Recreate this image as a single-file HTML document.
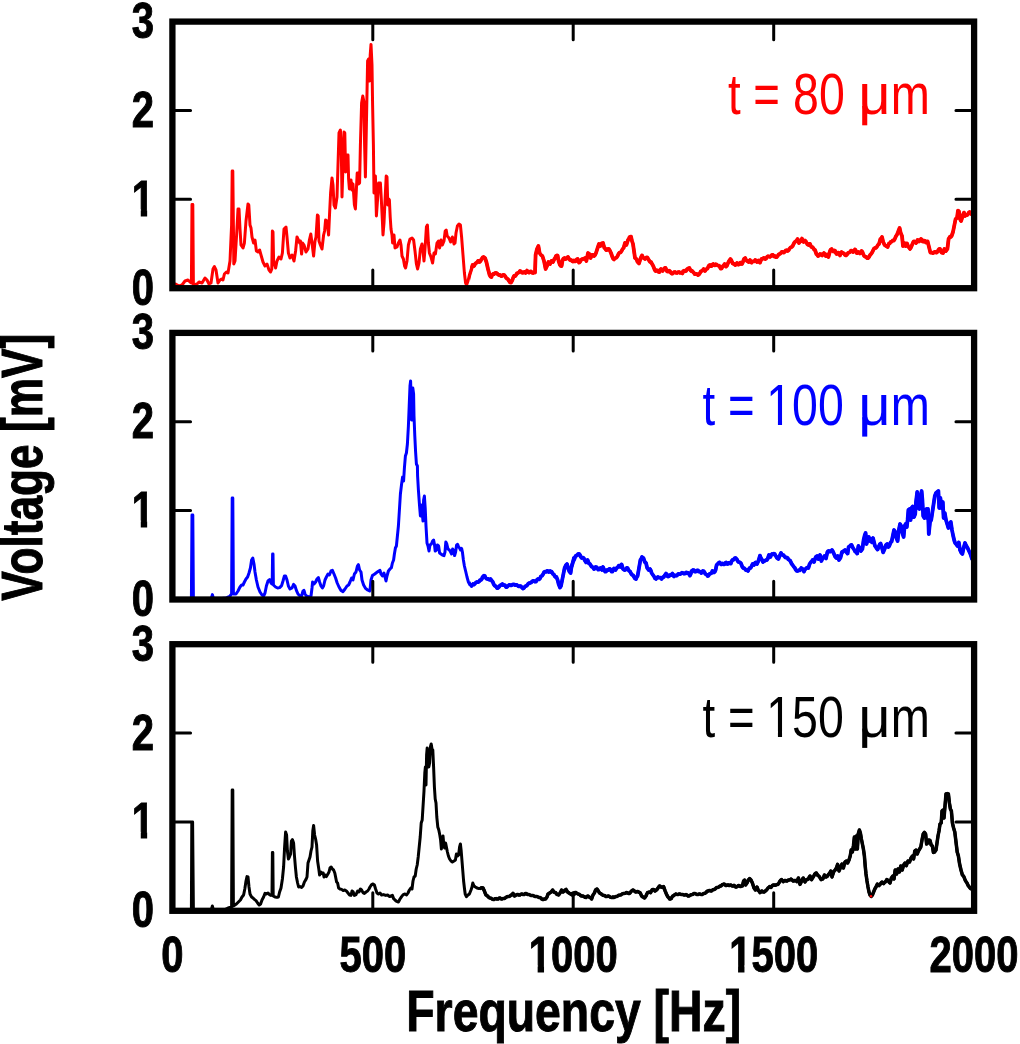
<!DOCTYPE html>
<html><head><meta charset="utf-8"><title>chart</title>
<style>
html,body{margin:0;padding:0;background:#fff;}
svg{display:block;will-change:transform;}
text{font-family:"Liberation Sans",sans-serif;}
.b{font-weight:bold;fill:#000;stroke:#000;stroke-width:0.9px;vector-effect:non-scaling-stroke;stroke-linejoin:miter;}
.r{stroke-width:0.7px;vector-effect:non-scaling-stroke;}
</style></head><body>
<svg width="1020" height="1044" viewBox="0 0 1020 1044">
<rect width="1020" height="1044" fill="#fff"/>
<clipPath id="c0"><rect x="172.4" y="21.6" width="801.7" height="266.59999999999997"/></clipPath>
<clipPath id="n0"><rect x="470" y="21.6" width="504.1" height="266.59999999999997"/></clipPath>
<polyline clip-path="url(#c0)" points="175.6,284.0 179.0,286.0 182.0,285.0 185.0,281.0 188.0,280.0 190.0,282.0 191.4,283.0 192.0,204.4 192.8,204.4 193.4,285.0 197.0,284.0 199.0,282.0 202.0,283.0 205.0,278.0 207.0,280.0 209.0,284.0 211.0,283.0 213.0,269.0 214.4,266.6 216.0,270.0 218.0,283.0 220.0,280.0 221.6,279.0 223.0,280.0 224.4,274.0 226.4,272.0 228.0,273.0 230.0,261.0 231.6,225.0 232.2,171.0 232.8,171.0 233.4,225.0 233.8,264.0 235.0,261.0 236.6,235.0 238.0,209.0 239.0,209.0 240.0,229.0 241.0,245.0 243.0,248.0 244.4,243.0 246.0,221.0 248.0,204.0 248.8,205.0 250.0,225.0 251.0,228.0 252.0,237.0 253.6,243.0 255.0,240.0 256.4,251.0 258.0,252.0 259.6,250.0 261.0,255.0 263.0,262.0 265.0,266.0 267.0,264.0 269.0,270.0 270.6,272.0 271.8,269.0 272.4,231.0 273.0,232.0 273.6,261.0 275.6,268.0 277.0,261.0 279.0,257.0 281.0,259.0 282.4,253.0 284.0,229.0 286.0,227.0 287.0,237.0 288.4,253.0 290.0,258.0 292.0,255.0 294.0,261.0 295.6,251.0 297.0,237.0 298.4,240.0 299.6,243.0 300.4,241.0 301.6,254.0 302.6,243.0 304.0,245.0 306.0,252.0 308.0,249.0 309.4,240.0 310.8,234.0 312.0,243.0 313.6,256.0 315.0,241.0 316.0,237.0 317.4,215.0 318.2,216.0 319.0,241.0 320.4,245.0 322.0,249.0 323.6,235.0 324.6,231.0 325.6,220.0 327.0,221.0 328.6,235.0 329.6,213.0 330.6,193.0 332.0,178.0 333.0,185.0 334.0,205.0 335.4,208.0 337.0,197.0 338.0,165.0 339.0,133.0 340.4,130.0 341.2,145.0 342.0,197.0 343.0,165.0 344.0,132.0 344.8,133.0 345.6,172.0 346.6,155.0 348.0,155.0 348.6,179.0 349.4,189.0 351.0,180.0 352.0,190.0 353.0,184.0 354.4,205.0 355.4,209.0 356.4,189.0 357.2,173.0 358.0,173.0 358.6,184.0 359.6,183.0 360.4,145.0 361.6,103.0 362.8,96.0 364.0,102.0 364.6,145.0 365.4,177.0 366.4,125.0 367.6,61.0 368.6,59.0 369.6,81.0 370.2,55.0 371.0,44.4 372.0,65.0 372.6,105.0 373.4,145.0 373.4,145.0 374.0,193.0 375.4,176.0 376.4,216.0 377.6,199.0 378.6,183.0 380.4,183.0 381.2,197.0 382.4,221.0 383.0,235.0 384.0,223.0 385.2,197.0 386.2,176.0 387.0,177.0 387.8,205.0 388.8,199.0 389.4,200.0 390.2,217.0 391.0,229.0 392.0,235.0 392.6,243.0 394.0,235.0 395.0,248.0 397.0,247.0 398.4,243.0 400.0,240.0 401.0,245.0 402.0,256.0 403.4,259.0 404.6,266.0 405.6,268.0 407.0,261.0 408.4,245.0 410.0,239.0 412.0,238.0 413.6,240.0 415.0,251.0 416.4,264.0 417.6,269.0 419.0,263.0 420.4,249.0 422.0,244.0 423.0,251.0 424.0,261.0 425.0,249.0 426.4,227.0 427.4,225.0 428.4,243.0 429.4,253.0 431.0,257.0 432.6,263.0 434.0,253.0 435.4,254.0 437.0,243.0 438.4,241.0 439.6,248.0 441.0,240.0 442.4,245.0 444.0,241.0 445.2,231.0 446.2,230.0 447.2,236.0 449.0,238.0 450.6,242.0 452.4,237.0 454.0,244.0 455.0,243.0 456.0,233.0 457.4,226.0 459.0,224.0 460.4,225.0 461.6,237.0 463.0,255.0 464.4,273.0 465.6,283.0 466.6,285.0 468.0,281.0 469.4,275.0 471.0,270.0 472.6,265.0 474.0,266.0 475.0,264.1 476.0,263.0 477.0,262.6 478.0,261.0 478.8,260.9 479.6,262.0 480.6,260.9 481.6,259.0 482.6,257.5 483.6,257.0 485.0,258.0 486.4,262.0 488.0,269.0 489.6,275.0 490.5,276.5 491.4,277.0 492.2,274.9 493.0,274.0 494.0,274.1 495.0,273.0 496.0,272.8 497.0,273.4 498.0,274.5 499.0,275.0 500.0,274.9 501.0,276.0 502.0,276.0 503.0,275.0 504.0,274.9 505.0,276.0 506.0,277.6 507.0,278.6 508.0,279.3 509.0,281.0 510.0,282.4 511.0,282.6 512.4,280.0 513.2,277.6 514.0,276.0 515.0,276.2 516.0,275.0 517.0,273.3 518.0,273.0 519.0,272.3 520.0,271.0 521.0,271.5 522.0,272.6 523.0,272.8 524.0,272.0 524.8,271.8 525.6,273.0 527.0,270.6 528.0,272.1 529.0,272.6 530.0,271.6 531.0,271.4 532.0,272.7 533.0,273.0 534.0,272.5 535.0,272.6 535.6,255.0 537.0,249.0 538.4,246.0 539.6,253.0 541.0,255.0 542.4,256.0 544.0,261.0 545.6,269.0 547.0,266.0 548.4,262.0 549.2,263.4 550.0,264.0 551.4,261.0 552.2,261.0 553.0,262.0 554.4,259.0 555.2,258.0 556.0,256.0 556.8,255.4 557.6,255.6 558.6,261.0 560.0,265.0 560.8,265.9 561.6,266.0 562.6,260.0 563.5,258.6 564.4,258.0 565.2,259.0 566.0,259.0 567.0,257.6 568.0,257.0 569.0,258.8 570.0,260.0 571.0,259.9 572.0,261.0 573.0,261.5 574.0,260.4 575.0,261.4 576.0,261.0 576.8,259.3 577.6,259.0 579.0,262.6 580.0,261.9 581.0,260.0 582.0,259.1 583.0,259.0 584.0,258.9 585.0,258.0 586.4,261.0 588.0,253.0 589.4,254.0 590.6,258.0 592.0,255.0 593.0,254.9 594.0,256.0 595.0,255.1 596.0,253.0 597.6,248.0 599.0,244.0 600.4,246.0 601.6,243.4 603.0,243.0 604.4,248.0 605.2,248.3 606.0,250.0 607.0,250.0 608.0,249.0 608.8,248.9 609.6,250.0 611.0,253.0 612.4,257.0 613.2,258.8 614.0,259.4 614.8,258.3 615.6,258.0 616.6,257.5 617.6,256.0 618.6,253.7 619.6,252.6 620.6,252.4 621.6,251.0 622.6,249.0 623.6,248.0 625.0,243.0 626.4,245.0 628.0,240.0 628.8,239.0 629.6,237.0 631.0,236.6 632.0,241.0 633.0,244.0 634.0,251.0 635.0,258.0 636.4,259.0 637.6,262.0 639.0,263.4 640.4,259.0 641.2,256.9 642.0,255.4 642.8,257.1 643.6,258.0 645.0,259.0 646.4,257.4 647.2,257.4 648.0,258.6 649.4,261.0 650.2,262.0 651.0,262.0 652.4,264.6 653.2,265.9 654.0,268.0 654.8,270.0 655.6,271.0 656.6,270.2 657.6,270.6 658.5,271.9 659.4,272.0 660.2,270.0 661.0,269.0 661.8,270.5 662.6,271.0 664.0,269.0 664.8,268.0 665.6,268.0 667.0,271.4 668.0,271.6 669.0,270.6 670.0,271.3 671.0,273.0 672.0,273.7 673.0,273.4 674.0,272.2 675.0,272.0 676.0,272.8 677.0,273.0 678.0,272.2 679.0,272.0 680.0,272.9 681.0,272.6 682.4,273.4 683.2,271.3 684.0,270.6 685.0,271.3 686.0,271.0 687.0,269.3 688.0,268.6 689.4,268.0 690.2,269.9 691.0,271.0 691.8,270.7 692.6,271.4 694.0,273.0 694.8,274.2 695.6,274.0 696.8,273.9 698.0,275.0 699.0,274.5 700.0,273.0 700.8,271.4 701.6,271.0 702.6,270.4 703.6,269.0 705.0,271.0 705.8,269.5 706.6,269.0 707.5,268.5 708.4,266.6 709.2,265.3 710.0,265.0 710.8,266.0 711.6,266.0 712.4,264.6 713.2,264.0 714.1,265.2 715.0,265.4 715.8,264.3 716.6,264.6 717.5,265.4 718.4,265.6 719.2,265.9 720.0,267.4 720.8,268.6 721.6,268.6 722.4,266.7 723.2,266.0 724.6,264.0 726.0,266.6 726.8,265.9 727.6,264.0 729.0,261.0 730.4,259.0 731.2,259.9 732.0,262.0 732.8,263.5 733.6,264.0 734.4,264.0 735.2,265.0 736.1,264.5 737.0,263.0 737.8,263.4 738.6,264.6 739.5,264.2 740.4,262.6 741.2,262.8 742.0,264.0 742.8,262.4 743.6,260.0 744.4,258.5 745.2,258.0 746.1,260.0 747.0,261.0 747.8,261.0 748.6,262.0 750.0,260.0 750.8,261.8 751.6,262.6 752.6,261.5 753.6,261.4 754.4,261.3 755.2,260.0 756.1,260.4 757.0,262.0 757.8,261.8 758.6,260.6 760.0,262.6 760.8,260.5 761.6,259.0 762.6,258.9 763.6,258.0 764.4,258.1 765.2,259.0 766.1,258.5 767.0,257.0 768.0,256.2 769.0,256.6 770.0,256.9 771.0,256.0 772.0,254.9 773.0,255.0 773.9,256.3 774.7,255.9 775.6,257.0 776.6,257.1 777.6,256.0 778.6,254.4 779.6,254.0 780.6,253.4 781.6,252.0 782.6,252.0 783.6,252.6 784.6,251.9 785.6,250.6 786.6,250.2 787.6,251.0 788.6,250.2 789.6,248.6 790.6,247.4 791.6,247.0 792.6,246.1 793.6,244.0 794.6,242.2 795.6,241.4 796.6,240.6 797.6,239.0 799.0,243.0 799.8,241.8 800.6,241.4 802.0,238.6 802.8,240.8 803.6,242.0 805.0,240.6 805.8,241.4 806.6,243.0 807.5,244.4 808.4,245.0 809.2,243.9 810.0,244.0 810.8,246.0 811.6,247.0 812.4,247.1 813.2,248.0 814.1,249.5 815.0,250.0 816.4,254.0 817.2,254.7 818.0,256.0 819.0,255.5 820.0,254.0 821.0,254.2 822.0,255.4 823.0,254.6 824.0,253.0 824.8,254.1 825.6,256.0 826.4,256.0 827.2,254.6 828.4,257.0 830.0,251.0 830.8,249.5 831.6,249.0 832.4,250.6 833.2,251.4 834.1,250.5 835.0,250.6 835.8,252.9 836.6,254.0 837.5,253.0 838.4,252.6 839.2,254.3 840.0,255.4 840.8,253.3 841.6,252.0 842.4,253.1 843.2,253.0 844.1,253.6 845.0,255.0 846.0,255.4 847.0,254.6 848.0,253.0 849.0,252.6 850.0,252.1 851.0,250.6 852.0,250.9 853.0,252.0 854.0,251.4 855.0,249.4 855.8,250.6 856.6,253.0 857.5,253.0 858.4,252.0 859.2,252.3 860.0,253.4 860.8,252.8 861.6,251.0 862.4,252.0 863.2,254.0 864.1,255.8 865.0,256.6 866.0,256.9 867.0,258.0 868.0,258.1 869.0,257.0 870.0,255.1 871.0,254.0 872.0,252.7 873.0,250.6 874.0,248.6 875.0,248.0 876.0,247.9 877.0,246.6 878.0,244.9 879.0,244.0 880.4,239.0 881.2,238.6 882.0,237.0 883.2,242.0 884.6,245.0 886.0,246.0 886.8,246.1 887.6,247.0 889.0,243.4 889.8,243.4 890.6,242.0 892.0,241.4 892.8,240.4 893.6,240.6 894.4,239.8 895.2,238.0 896.0,236.1 896.8,235.0 897.6,233.3 898.4,231.0 899.6,228.0 900.6,232.6 902.0,236.0 903.0,246.0 904.4,243.0 905.6,246.0 907.0,243.4 908.4,247.0 909.2,247.4 910.0,249.0 910.8,247.8 911.6,246.0 913.0,242.6 913.8,241.4 914.6,241.4 916.0,243.0 916.8,242.2 917.6,240.0 918.4,240.2 919.2,241.4 920.1,240.6 921.0,239.0 921.8,239.6 922.6,241.4 923.5,241.7 924.4,240.6 925.2,241.0 926.0,242.6 926.8,242.5 927.6,241.4 929.0,247.0 930.4,252.6 931.4,252.3 932.4,253.0 933.4,253.0 934.4,252.0 935.4,251.9 936.4,252.6 937.4,251.9 938.4,250.0 939.2,249.0 940.0,249.0 940.8,251.2 941.6,252.6 943.0,253.0 944.4,249.0 945.2,249.6 946.0,251.0 947.4,249.0 948.6,239.0 950.0,236.6 950.8,236.9 951.6,236.0 953.0,232.0 954.4,225.0 955.6,219.0 957.0,218.0 958.0,210.6 959.0,211.4 960.0,219.0 961.0,221.0 962.4,217.0 963.2,214.4 964.0,212.6 965.0,216.0 966.4,215.0 967.2,215.0 968.0,214.0 968.8,212.6 969.6,212.0 971.0,214.0 972.0,214.1 973.0,213.0" fill="none" stroke="#ff0000" stroke-width="3.0" stroke-linejoin="round" stroke-linecap="round"/>
<polyline clip-path="url(#n0)" points="175.6,284.0 179.0,286.0 182.0,285.0 185.0,281.0 188.0,280.0 190.0,282.0 191.4,283.0 192.0,204.4 192.8,204.4 193.4,285.0 197.0,284.0 199.0,282.0 202.0,283.0 205.0,278.0 207.0,280.0 209.0,284.0 211.0,283.0 213.0,269.0 214.4,266.6 216.0,270.0 218.0,283.0 220.0,280.0 221.6,279.0 223.0,280.0 224.4,274.0 226.4,272.0 228.0,273.0 230.0,261.0 231.6,225.0 232.2,171.0 232.8,171.0 233.4,225.0 233.8,264.0 235.0,261.0 236.6,235.0 238.0,209.0 239.0,209.0 240.0,229.0 241.0,245.0 243.0,248.0 244.4,243.0 246.0,221.0 248.0,204.0 248.8,205.0 250.0,225.0 251.0,228.0 252.0,237.0 253.6,243.0 255.0,240.0 256.4,251.0 258.0,252.0 259.6,250.0 261.0,255.0 263.0,262.0 265.0,266.0 267.0,264.0 269.0,270.0 270.6,272.0 271.8,269.0 272.4,231.0 273.0,232.0 273.6,261.0 275.6,268.0 277.0,261.0 279.0,257.0 281.0,259.0 282.4,253.0 284.0,229.0 286.0,227.0 287.0,237.0 288.4,253.0 290.0,258.0 292.0,255.0 294.0,261.0 295.6,251.0 297.0,237.0 298.4,240.0 299.6,243.0 300.4,241.0 301.6,254.0 302.6,243.0 304.0,245.0 306.0,252.0 308.0,249.0 309.4,240.0 310.8,234.0 312.0,243.0 313.6,256.0 315.0,241.0 316.0,237.0 317.4,215.0 318.2,216.0 319.0,241.0 320.4,245.0 322.0,249.0 323.6,235.0 324.6,231.0 325.6,220.0 327.0,221.0 328.6,235.0 329.6,213.0 330.6,193.0 332.0,178.0 333.0,185.0 334.0,205.0 335.4,208.0 337.0,197.0 338.0,165.0 339.0,133.0 340.4,130.0 341.2,145.0 342.0,197.0 343.0,165.0 344.0,132.0 344.8,133.0 345.6,172.0 346.6,155.0 348.0,155.0 348.6,179.0 349.4,189.0 351.0,180.0 352.0,190.0 353.0,184.0 354.4,205.0 355.4,209.0 356.4,189.0 357.2,173.0 358.0,173.0 358.6,184.0 359.6,183.0 360.4,145.0 361.6,103.0 362.8,96.0 364.0,102.0 364.6,145.0 365.4,177.0 366.4,125.0 367.6,61.0 368.6,59.0 369.6,81.0 370.2,55.0 371.0,44.4 372.0,65.0 372.6,105.0 373.4,145.0 373.4,145.0 374.0,193.0 375.4,176.0 376.4,216.0 377.6,199.0 378.6,183.0 380.4,183.0 381.2,197.0 382.4,221.0 383.0,235.0 384.0,223.0 385.2,197.0 386.2,176.0 387.0,177.0 387.8,205.0 388.8,199.0 389.4,200.0 390.2,217.0 391.0,229.0 392.0,235.0 392.6,243.0 394.0,235.0 395.0,248.0 397.0,247.0 398.4,243.0 400.0,240.0 401.0,245.0 402.0,256.0 403.4,259.0 404.6,266.0 405.6,268.0 407.0,261.0 408.4,245.0 410.0,239.0 412.0,238.0 413.6,240.0 415.0,251.0 416.4,264.0 417.6,269.0 419.0,263.0 420.4,249.0 422.0,244.0 423.0,251.0 424.0,261.0 425.0,249.0 426.4,227.0 427.4,225.0 428.4,243.0 429.4,253.0 431.0,257.0 432.6,263.0 434.0,253.0 435.4,254.0 437.0,243.0 438.4,241.0 439.6,248.0 441.0,240.0 442.4,245.0 444.0,241.0 445.2,231.0 446.2,230.0 447.2,236.0 449.0,238.0 450.6,242.0 452.4,237.0 454.0,244.0 455.0,243.0 456.0,233.0 457.4,226.0 459.0,224.0 460.4,225.0 461.6,237.0 463.0,255.0 464.4,273.0 465.6,283.0 466.6,285.0 468.0,281.0 469.4,275.0 471.0,270.0 472.6,265.0 474.0,266.0 475.0,264.1 476.0,263.0 477.0,262.6 478.0,261.0 478.8,260.9 479.6,262.0 480.6,260.9 481.6,259.0 482.6,257.5 483.6,257.0 485.0,258.0 486.4,262.0 488.0,269.0 489.6,275.0 490.5,276.5 491.4,277.0 492.2,274.9 493.0,274.0 494.0,274.1 495.0,273.0 496.0,272.8 497.0,273.4 498.0,274.5 499.0,275.0 500.0,274.9 501.0,276.0 502.0,276.0 503.0,275.0 504.0,274.9 505.0,276.0 506.0,277.6 507.0,278.6 508.0,279.3 509.0,281.0 510.0,282.4 511.0,282.6 512.4,280.0 513.2,277.6 514.0,276.0 515.0,276.2 516.0,275.0 517.0,273.3 518.0,273.0 519.0,272.3 520.0,271.0 521.0,271.5 522.0,272.6 523.0,272.8 524.0,272.0 524.8,271.8 525.6,273.0 527.0,270.6 528.0,272.1 529.0,272.6 530.0,271.6 531.0,271.4 532.0,272.7 533.0,273.0 534.0,272.5 535.0,272.6 535.6,255.0 537.0,249.0 538.4,246.0 539.6,253.0 541.0,255.0 542.4,256.0 544.0,261.0 545.6,269.0 547.0,266.0 548.4,262.0 549.2,263.4 550.0,264.0 551.4,261.0 552.2,261.0 553.0,262.0 554.4,259.0 555.2,258.0 556.0,256.0 556.8,255.4 557.6,255.6 558.6,261.0 560.0,265.0 560.8,265.9 561.6,266.0 562.6,260.0 563.5,258.6 564.4,258.0 565.2,259.0 566.0,259.0 567.0,257.6 568.0,257.0 569.0,258.8 570.0,260.0 571.0,259.9 572.0,261.0 573.0,261.5 574.0,260.4 575.0,261.4 576.0,261.0 576.8,259.3 577.6,259.0 579.0,262.6 580.0,261.9 581.0,260.0 582.0,259.1 583.0,259.0 584.0,258.9 585.0,258.0 586.4,261.0 588.0,253.0 589.4,254.0 590.6,258.0 592.0,255.0 593.0,254.9 594.0,256.0 595.0,255.1 596.0,253.0 597.6,248.0 599.0,244.0 600.4,246.0 601.6,243.4 603.0,243.0 604.4,248.0 605.2,248.3 606.0,250.0 607.0,250.0 608.0,249.0 608.8,248.9 609.6,250.0 611.0,253.0 612.4,257.0 613.2,258.8 614.0,259.4 614.8,258.3 615.6,258.0 616.6,257.5 617.6,256.0 618.6,253.7 619.6,252.6 620.6,252.4 621.6,251.0 622.6,249.0 623.6,248.0 625.0,243.0 626.4,245.0 628.0,240.0 628.8,239.0 629.6,237.0 631.0,236.6 632.0,241.0 633.0,244.0 634.0,251.0 635.0,258.0 636.4,259.0 637.6,262.0 639.0,263.4 640.4,259.0 641.2,256.9 642.0,255.4 642.8,257.1 643.6,258.0 645.0,259.0 646.4,257.4 647.2,257.4 648.0,258.6 649.4,261.0 650.2,262.0 651.0,262.0 652.4,264.6 653.2,265.9 654.0,268.0 654.8,270.0 655.6,271.0 656.6,270.2 657.6,270.6 658.5,271.9 659.4,272.0 660.2,270.0 661.0,269.0 661.8,270.5 662.6,271.0 664.0,269.0 664.8,268.0 665.6,268.0 667.0,271.4 668.0,271.6 669.0,270.6 670.0,271.3 671.0,273.0 672.0,273.7 673.0,273.4 674.0,272.2 675.0,272.0 676.0,272.8 677.0,273.0 678.0,272.2 679.0,272.0 680.0,272.9 681.0,272.6 682.4,273.4 683.2,271.3 684.0,270.6 685.0,271.3 686.0,271.0 687.0,269.3 688.0,268.6 689.4,268.0 690.2,269.9 691.0,271.0 691.8,270.7 692.6,271.4 694.0,273.0 694.8,274.2 695.6,274.0 696.8,273.9 698.0,275.0 699.0,274.5 700.0,273.0 700.8,271.4 701.6,271.0 702.6,270.4 703.6,269.0 705.0,271.0 705.8,269.5 706.6,269.0 707.5,268.5 708.4,266.6 709.2,265.3 710.0,265.0 710.8,266.0 711.6,266.0 712.4,264.6 713.2,264.0 714.1,265.2 715.0,265.4 715.8,264.3 716.6,264.6 717.5,265.4 718.4,265.6 719.2,265.9 720.0,267.4 720.8,268.6 721.6,268.6 722.4,266.7 723.2,266.0 724.6,264.0 726.0,266.6 726.8,265.9 727.6,264.0 729.0,261.0 730.4,259.0 731.2,259.9 732.0,262.0 732.8,263.5 733.6,264.0 734.4,264.0 735.2,265.0 736.1,264.5 737.0,263.0 737.8,263.4 738.6,264.6 739.5,264.2 740.4,262.6 741.2,262.8 742.0,264.0 742.8,262.4 743.6,260.0 744.4,258.5 745.2,258.0 746.1,260.0 747.0,261.0 747.8,261.0 748.6,262.0 750.0,260.0 750.8,261.8 751.6,262.6 752.6,261.5 753.6,261.4 754.4,261.3 755.2,260.0 756.1,260.4 757.0,262.0 757.8,261.8 758.6,260.6 760.0,262.6 760.8,260.5 761.6,259.0 762.6,258.9 763.6,258.0 764.4,258.1 765.2,259.0 766.1,258.5 767.0,257.0 768.0,256.2 769.0,256.6 770.0,256.9 771.0,256.0 772.0,254.9 773.0,255.0 773.9,256.3 774.7,255.9 775.6,257.0 776.6,257.1 777.6,256.0 778.6,254.4 779.6,254.0 780.6,253.4 781.6,252.0 782.6,252.0 783.6,252.6 784.6,251.9 785.6,250.6 786.6,250.2 787.6,251.0 788.6,250.2 789.6,248.6 790.6,247.4 791.6,247.0 792.6,246.1 793.6,244.0 794.6,242.2 795.6,241.4 796.6,240.6 797.6,239.0 799.0,243.0 799.8,241.8 800.6,241.4 802.0,238.6 802.8,240.8 803.6,242.0 805.0,240.6 805.8,241.4 806.6,243.0 807.5,244.4 808.4,245.0 809.2,243.9 810.0,244.0 810.8,246.0 811.6,247.0 812.4,247.1 813.2,248.0 814.1,249.5 815.0,250.0 816.4,254.0 817.2,254.7 818.0,256.0 819.0,255.5 820.0,254.0 821.0,254.2 822.0,255.4 823.0,254.6 824.0,253.0 824.8,254.1 825.6,256.0 826.4,256.0 827.2,254.6 828.4,257.0 830.0,251.0 830.8,249.5 831.6,249.0 832.4,250.6 833.2,251.4 834.1,250.5 835.0,250.6 835.8,252.9 836.6,254.0 837.5,253.0 838.4,252.6 839.2,254.3 840.0,255.4 840.8,253.3 841.6,252.0 842.4,253.1 843.2,253.0 844.1,253.6 845.0,255.0 846.0,255.4 847.0,254.6 848.0,253.0 849.0,252.6 850.0,252.1 851.0,250.6 852.0,250.9 853.0,252.0 854.0,251.4 855.0,249.4 855.8,250.6 856.6,253.0 857.5,253.0 858.4,252.0 859.2,252.3 860.0,253.4 860.8,252.8 861.6,251.0 862.4,252.0 863.2,254.0 864.1,255.8 865.0,256.6 866.0,256.9 867.0,258.0 868.0,258.1 869.0,257.0 870.0,255.1 871.0,254.0 872.0,252.7 873.0,250.6 874.0,248.6 875.0,248.0 876.0,247.9 877.0,246.6 878.0,244.9 879.0,244.0 880.4,239.0 881.2,238.6 882.0,237.0 883.2,242.0 884.6,245.0 886.0,246.0 886.8,246.1 887.6,247.0 889.0,243.4 889.8,243.4 890.6,242.0 892.0,241.4 892.8,240.4 893.6,240.6 894.4,239.8 895.2,238.0 896.0,236.1 896.8,235.0 897.6,233.3 898.4,231.0 899.6,228.0 900.6,232.6 902.0,236.0 903.0,246.0 904.4,243.0 905.6,246.0 907.0,243.4 908.4,247.0 909.2,247.4 910.0,249.0 910.8,247.8 911.6,246.0 913.0,242.6 913.8,241.4 914.6,241.4 916.0,243.0 916.8,242.2 917.6,240.0 918.4,240.2 919.2,241.4 920.1,240.6 921.0,239.0 921.8,239.6 922.6,241.4 923.5,241.7 924.4,240.6 925.2,241.0 926.0,242.6 926.8,242.5 927.6,241.4 929.0,247.0 930.4,252.6 931.4,252.3 932.4,253.0 933.4,253.0 934.4,252.0 935.4,251.9 936.4,252.6 937.4,251.9 938.4,250.0 939.2,249.0 940.0,249.0 940.8,251.2 941.6,252.6 943.0,253.0 944.4,249.0 945.2,249.6 946.0,251.0 947.4,249.0 948.6,239.0 950.0,236.6 950.8,236.9 951.6,236.0 953.0,232.0 954.4,225.0 955.6,219.0 957.0,218.0 958.0,210.6 959.0,211.4 960.0,219.0 961.0,221.0 962.4,217.0 963.2,214.4 964.0,212.6 965.0,216.0 966.4,215.0 967.2,215.0 968.0,214.0 968.8,212.6 969.6,212.0 971.0,214.0 972.0,214.1 973.0,213.0" fill="none" stroke="#ff0000" stroke-width="3.8" stroke-linejoin="round" stroke-linecap="round"/>
<path d="M174.55,199.3h16M971.95,199.3h-16M174.55,110.5h16M971.95,110.5h-16M372.8,23.75v16M372.8,286.05v-16M573.2,23.75v16M573.2,286.05v-16M773.7,23.75v16M773.7,286.05v-16" stroke="#000" stroke-width="3.0" stroke-linecap="round" fill="none"/>
<rect x="172.4" y="21.6" width="801.7" height="266.6" fill="none" stroke="#000" stroke-width="6.3"/>
<text class="b" font-size="50" text-anchor="middle" transform="translate(143,304.7) scale(0.8,1)">0</text>
<text class="b" font-size="50" text-anchor="middle" transform="translate(143,215.8) scale(0.8,1)">1</text>
<rect x="132.90" y="209.28" width="7.87" height="8.05" fill="#fff"/>
<rect x="147.15" y="209.28" width="7.36" height="8.05" fill="#fff"/>
<text class="b" font-size="50" text-anchor="middle" transform="translate(143,127.0) scale(0.8,1)">2</text>
<text class="b" font-size="50" text-anchor="middle" transform="translate(143,38.1) scale(0.8,1)">3</text>
<text font-size="57" fill="#ff0000" transform="translate(727.9,113.9) scale(0.80,1)">t =</text>
<text font-size="57" fill="#ff0000" transform="translate(793.1,113.9) scale(0.815,1)">80</text>
<text font-size="57" fill="#ff0000" x="858.5" y="113.9">u</text>
<rect x="862.2" y="105.9" width="5.05" height="19.4" fill="#ff0000"/>
<text font-size="57" fill="#ff0000" text-anchor="end" transform="translate(929.9,113.9) scale(0.824,1)">m</text>
<clipPath id="c1"><rect x="172.4" y="332.9" width="801.7" height="266.6"/></clipPath>
<clipPath id="n1"><rect x="470" y="332.9" width="504.1" height="266.6"/></clipPath>
<polyline clip-path="url(#c1)" points="173.0,599.4 191.4,599.4 192.0,515.0 192.8,515.0 193.4,599.4 211.0,599.4 212.4,594.6 213.6,599.4 226.0,598.0 230.0,596.0 231.6,594.0 232.2,498.0 232.8,498.0 233.4,594.0 236.0,594.0 238.0,591.0 240.0,587.0 241.6,585.0 243.0,585.0 244.4,582.0 246.0,579.0 247.6,577.0 249.0,573.0 250.4,568.0 251.6,560.0 252.8,558.0 254.0,564.0 255.0,572.0 256.4,580.0 258.0,587.0 260.0,592.0 262.0,595.0 263.6,596.0 265.0,593.0 266.4,586.0 268.0,581.0 269.6,579.6 271.0,583.0 272.2,584.0 272.6,554.0 273.0,554.0 273.4,585.0 275.6,587.0 277.6,588.0 279.6,587.6 281.6,585.6 283.0,581.0 284.4,576.0 285.6,576.0 287.0,580.0 288.4,586.0 290.0,589.0 292.0,588.0 293.6,584.4 295.0,586.0 296.4,590.4 298.0,594.0 300.0,596.0 301.6,596.0 303.0,591.0 304.0,590.4 305.0,594.0 306.4,596.0 309.0,597.0 311.0,596.0 312.0,588.0 312.6,582.0 314.0,584.0 315.6,582.0 317.0,579.0 318.4,577.6 319.6,582.0 321.0,586.0 322.4,588.0 323.6,586.0 325.0,580.0 326.4,577.0 328.0,574.0 329.4,575.0 331.0,571.0 332.4,570.4 334.0,574.0 335.6,578.0 337.2,583.0 339.0,587.0 341.0,590.4 343.0,591.6 345.0,589.0 347.0,586.0 348.6,585.0 350.0,582.0 351.6,578.0 353.0,580.0 354.4,574.0 356.0,572.0 357.4,566.0 358.4,564.6 359.6,570.0 361.0,572.0 362.0,580.0 363.6,585.0 365.6,588.4 367.6,590.0 369.6,591.0 370.0,590.0 371.0,580.0 372.4,575.6 374.0,574.6 376.0,573.0 378.0,571.6 380.0,570.4 381.0,574.0 382.4,576.0 384.0,573.0 385.0,577.0 386.0,581.0 387.0,576.0 388.4,571.0 390.0,569.0 391.4,567.6 392.4,563.0 393.6,560.0 394.4,554.0 395.4,548.0 396.4,546.0 397.4,536.0 398.4,526.0 399.4,510.0 400.4,494.0 401.6,484.0 402.6,477.0 403.6,481.0 404.4,468.0 405.4,456.0 406.4,453.0 407.4,444.0 408.4,426.0 409.2,406.0 410.0,386.0 410.6,381.0 411.2,400.0 411.6,420.0 412.0,398.0 412.8,388.0 413.6,394.0 414.0,416.0 414.8,436.0 415.6,452.0 416.4,464.0 417.4,466.0 417.6,476.0 418.4,490.0 419.4,504.0 420.4,516.0 421.4,505.0 422.2,512.0 423.0,521.0 423.6,500.0 424.4,496.0 425.2,508.0 426.0,526.0 427.0,543.0 428.0,546.0 429.0,551.0 430.0,545.0 431.4,544.0 432.6,541.0 433.6,540.0 434.4,544.0 435.2,551.0 436.4,550.0 437.4,545.0 438.6,546.0 439.6,553.0 441.0,554.0 442.4,555.0 444.0,555.6 445.0,552.0 445.8,542.0 446.8,544.0 448.0,549.0 449.4,550.0 450.6,552.0 451.6,554.0 452.6,549.0 453.6,551.0 454.6,555.6 455.6,552.0 456.6,545.0 457.6,544.4 458.6,547.0 459.6,548.0 460.6,550.0 461.6,548.4 462.4,552.0 463.4,560.0 464.4,566.0 465.6,571.0 467.0,577.0 468.4,582.0 470.0,585.0 470.8,584.8 471.6,586.0 473.0,584.0 474.0,584.5 475.0,583.6 476.0,582.4 477.0,582.0 478.0,582.2 479.0,581.6 480.0,580.2 481.0,580.0 481.8,579.1 482.6,577.0 484.0,575.6 484.8,576.0 485.6,577.6 486.5,578.7 487.4,579.0 488.2,578.8 489.0,579.6 489.8,579.8 490.6,579.0 492.0,581.0 492.8,582.0 493.6,584.0 494.4,585.4 495.2,586.0 496.1,586.5 497.0,588.0 498.0,588.0 499.0,587.0 500.0,585.4 501.0,585.0 502.4,584.0 503.2,585.2 504.0,585.0 505.0,585.3 506.0,587.0 507.0,587.0 508.0,586.0 509.0,585.0 510.0,585.0 511.0,585.4 512.0,585.0 513.0,584.4 514.0,584.4 515.0,585.0 516.0,585.0 517.0,585.0 518.0,586.0 519.0,586.4 520.0,586.0 521.0,586.3 522.0,587.6 523.0,588.5 524.0,588.0 525.0,586.5 526.0,586.0 527.0,585.5 528.0,584.0 529.0,583.1 530.0,583.0 531.0,582.6 532.0,581.6 533.0,580.9 534.0,581.0 535.0,581.7 536.0,581.6 537.0,579.8 538.0,579.0 539.0,579.4 540.0,578.4 540.8,576.6 541.6,576.0 542.4,575.4 543.2,574.0 544.1,572.1 545.0,571.6 546.0,571.9 547.0,571.0 547.8,570.9 548.6,572.0 550.0,571.0 550.8,572.0 551.6,571.6 553.0,574.0 553.8,574.4 554.6,576.0 555.5,577.1 556.4,577.0 557.6,580.0 558.6,584.0 560.0,587.6 561.0,586.0 562.0,581.0 563.4,574.0 564.6,568.0 566.0,565.0 567.0,564.0 568.0,568.0 569.4,571.6 570.6,573.0 571.6,566.0 572.6,563.0 574.0,558.0 571.6,567.0 573.0,562.0 574.4,559.0 575.2,556.8 576.0,555.6 577.0,555.5 578.0,554.0 579.0,553.8 580.0,555.0 580.8,556.9 581.6,558.0 583.0,557.6 583.8,558.2 584.6,560.0 586.0,562.4 586.8,561.8 587.6,560.0 589.0,563.6 589.8,563.8 590.6,565.0 591.5,566.5 592.4,567.0 593.2,567.5 594.0,569.0 594.8,568.7 595.6,567.0 596.5,567.2 597.4,568.4 598.2,569.6 599.0,569.6 599.8,568.3 600.6,568.0 602.0,570.0 603.0,567.0 604.4,570.4 605.2,571.6 606.0,571.6 606.8,570.1 607.6,570.0 608.4,570.0 609.2,569.0 610.0,569.0 610.8,570.0 611.6,571.5 612.4,571.6 613.2,569.4 614.0,568.4 614.8,569.7 615.6,570.0 616.4,568.4 617.2,567.6 618.0,567.0 618.8,565.6 619.6,565.7 620.4,567.0 621.6,564.4 623.0,569.0 624.4,570.0 625.2,569.9 626.0,569.0 626.8,567.8 627.6,568.0 628.4,569.9 629.2,571.0 630.0,571.3 630.8,573.0 631.6,574.4 632.4,575.0 633.2,575.3 634.0,577.0 635.0,578.6 636.0,579.0 636.8,577.0 637.6,576.0 639.0,568.0 640.4,560.0 641.2,559.0 642.0,557.0 643.4,558.0 644.8,562.0 646.0,563.0 647.2,568.0 648.6,570.0 650.0,569.0 650.8,570.4 651.6,573.0 653.0,575.0 654.4,577.0 655.2,578.5 656.0,579.0 657.0,577.6 658.0,577.0 659.0,577.7 660.0,577.6 660.8,577.8 661.6,579.0 663.0,577.0 663.8,577.0 664.6,575.6 666.0,573.6 666.8,574.4 667.6,576.4 668.4,576.6 669.2,576.0 670.1,574.9 671.0,575.0 672.4,573.6 673.2,575.6 674.0,576.4 674.8,575.3 675.6,575.6 676.5,575.7 677.4,575.0 678.2,573.9 679.0,574.0 680.0,574.2 681.0,573.6 682.0,572.7 683.0,573.0 684.0,573.7 685.0,573.6 685.8,572.6 686.6,572.4 687.5,573.3 688.4,573.0 689.2,573.9 690.0,575.6 690.8,573.8 691.6,571.0 693.0,570.0 693.8,570.2 694.6,571.6 695.5,571.7 696.4,571.0 697.2,570.3 698.0,570.4 698.8,571.6 699.6,571.6 700.4,571.8 701.2,573.0 702.0,572.6 702.8,571.0 703.6,571.2 704.4,572.0 705.2,573.7 706.0,574.4 706.8,574.8 707.6,576.0 708.4,575.8 709.2,574.4 710.0,573.6 710.8,573.6 711.6,573.0 712.4,571.0 713.2,571.4 714.0,572.4 714.8,571.8 715.6,570.0 716.6,565.0 718.0,563.6 718.8,562.7 719.6,562.4 720.4,563.8 721.2,564.4 722.0,563.4 722.8,563.6 723.6,564.4 724.4,564.4 725.2,563.0 726.0,562.4 726.8,563.8 727.6,564.0 728.4,563.0 729.2,563.0 730.0,563.6 730.8,563.6 731.6,561.1 732.4,560.0 733.2,559.9 734.0,559.0 734.8,558.2 735.6,558.0 737.0,559.6 737.8,561.3 738.6,562.0 740.0,562.4 740.8,563.1 741.6,565.0 742.4,567.1 743.2,568.0 744.1,568.1 745.0,569.0 745.8,570.0 746.6,570.0 748.0,571.0 748.8,569.2 749.6,568.0 750.4,568.0 751.2,567.0 752.6,564.0 754.0,565.0 754.8,563.1 755.6,562.4 757.0,564.0 758.4,561.0 760.0,555.6 760.8,557.9 761.6,559.0 763.0,562.0 763.8,560.8 764.6,561.0 766.0,560.0 766.8,560.1 767.6,559.0 769.0,555.0 770.4,557.0 771.2,554.9 772.0,554.0 773.0,554.4 774.0,553.6 774.8,554.1 775.6,555.6 777.0,558.0 778.4,559.0 779.6,556.0 781.0,553.0 781.8,554.4 782.6,555.0 783.5,555.1 784.4,556.4 785.2,557.4 786.0,557.6 786.8,557.4 787.6,558.0 788.4,559.5 789.2,560.0 790.1,560.6 791.0,562.4 791.8,564.1 792.6,565.0 794.0,567.0 794.8,567.8 795.6,569.6 796.6,570.8 797.6,571.0 798.6,570.2 799.6,570.4 800.4,569.6 801.2,568.0 802.6,569.0 804.0,571.6 804.8,569.6 805.6,569.0 807.0,567.6 808.4,568.0 809.6,564.0 811.0,562.0 811.8,561.4 812.6,560.0 814.0,562.0 815.4,558.0 816.2,556.5 817.0,556.0 818.4,559.0 819.2,557.5 820.0,555.0 821.4,561.0 822.2,559.2 823.0,558.0 824.4,556.0 825.2,557.7 826.0,558.4 827.4,552.0 828.2,551.1 829.0,551.0 829.8,551.7 830.6,551.6 832.0,550.0 832.8,551.2 833.6,553.0 835.0,556.4 836.4,558.0 837.6,556.0 839.0,560.0 840.4,558.0 842.0,552.0 842.8,551.9 843.6,551.0 845.0,550.0 846.4,552.0 847.6,553.6 848.6,547.0 850.0,546.0 850.8,545.1 851.6,545.0 853.0,548.0 854.4,550.0 855.2,551.6 856.0,552.0 857.2,553.6 858.4,546.0 859.6,548.0 861.0,551.0 862.4,549.0 863.6,540.0 864.8,535.0 865.6,533.0 866.6,544.0 867.6,539.0 868.8,537.0 870.0,541.0 871.2,539.0 872.0,542.4 873.0,538.0 874.0,542.0 875.0,546.0 876.4,548.0 877.6,549.6 879.0,546.0 879.8,544.3 880.6,543.6 882.0,548.0 883.2,552.4 884.6,549.0 886.0,545.0 887.2,544.0 888.4,547.0 889.2,546.2 890.0,544.0 890.8,542.1 891.6,541.6 892.8,536.0 894.0,530.0 895.2,532.0 896.4,538.0 897.6,541.0 898.8,530.0 900.0,524.0 901.2,526.0 902.4,533.0 903.6,537.0 904.6,526.0 905.6,524.0 906.8,527.0 907.6,520.0 908.4,510.0 909.6,509.0 910.6,520.0 911.6,508.0 912.8,506.4 914.0,517.0 915.2,514.0 916.0,502.0 917.2,492.0 918.4,508.0 919.4,509.0 920.4,498.0 921.6,491.0 922.4,500.0 923.2,516.0 924.4,518.0 925.4,510.0 926.4,509.0 927.2,518.0 928.0,509.0 928.8,534.0 930.0,522.0 931.2,520.0 932.4,512.0 933.6,504.0 934.8,496.0 936.0,493.0 937.2,492.0 938.4,491.0 939.2,508.0 940.4,498.0 941.6,508.0 942.8,502.0 943.6,518.0 944.8,513.0 946.0,520.0 947.2,524.0 948.4,528.0 949.6,524.0 950.8,522.0 952.0,530.0 953.2,536.0 954.4,541.0 955.2,543.2 956.0,544.0 957.4,546.0 958.8,542.4 960.0,550.0 961.4,553.0 962.4,554.0 963.6,548.0 965.0,543.0 966.4,546.0 967.6,548.0 969.0,551.0 970.4,554.0 972.0,559.0 973.0,559.1 974.0,560.0" fill="none" stroke="#0000ff" stroke-width="3.0" stroke-linejoin="round" stroke-linecap="round"/>
<polyline clip-path="url(#n1)" points="173.0,599.4 191.4,599.4 192.0,515.0 192.8,515.0 193.4,599.4 211.0,599.4 212.4,594.6 213.6,599.4 226.0,598.0 230.0,596.0 231.6,594.0 232.2,498.0 232.8,498.0 233.4,594.0 236.0,594.0 238.0,591.0 240.0,587.0 241.6,585.0 243.0,585.0 244.4,582.0 246.0,579.0 247.6,577.0 249.0,573.0 250.4,568.0 251.6,560.0 252.8,558.0 254.0,564.0 255.0,572.0 256.4,580.0 258.0,587.0 260.0,592.0 262.0,595.0 263.6,596.0 265.0,593.0 266.4,586.0 268.0,581.0 269.6,579.6 271.0,583.0 272.2,584.0 272.6,554.0 273.0,554.0 273.4,585.0 275.6,587.0 277.6,588.0 279.6,587.6 281.6,585.6 283.0,581.0 284.4,576.0 285.6,576.0 287.0,580.0 288.4,586.0 290.0,589.0 292.0,588.0 293.6,584.4 295.0,586.0 296.4,590.4 298.0,594.0 300.0,596.0 301.6,596.0 303.0,591.0 304.0,590.4 305.0,594.0 306.4,596.0 309.0,597.0 311.0,596.0 312.0,588.0 312.6,582.0 314.0,584.0 315.6,582.0 317.0,579.0 318.4,577.6 319.6,582.0 321.0,586.0 322.4,588.0 323.6,586.0 325.0,580.0 326.4,577.0 328.0,574.0 329.4,575.0 331.0,571.0 332.4,570.4 334.0,574.0 335.6,578.0 337.2,583.0 339.0,587.0 341.0,590.4 343.0,591.6 345.0,589.0 347.0,586.0 348.6,585.0 350.0,582.0 351.6,578.0 353.0,580.0 354.4,574.0 356.0,572.0 357.4,566.0 358.4,564.6 359.6,570.0 361.0,572.0 362.0,580.0 363.6,585.0 365.6,588.4 367.6,590.0 369.6,591.0 370.0,590.0 371.0,580.0 372.4,575.6 374.0,574.6 376.0,573.0 378.0,571.6 380.0,570.4 381.0,574.0 382.4,576.0 384.0,573.0 385.0,577.0 386.0,581.0 387.0,576.0 388.4,571.0 390.0,569.0 391.4,567.6 392.4,563.0 393.6,560.0 394.4,554.0 395.4,548.0 396.4,546.0 397.4,536.0 398.4,526.0 399.4,510.0 400.4,494.0 401.6,484.0 402.6,477.0 403.6,481.0 404.4,468.0 405.4,456.0 406.4,453.0 407.4,444.0 408.4,426.0 409.2,406.0 410.0,386.0 410.6,381.0 411.2,400.0 411.6,420.0 412.0,398.0 412.8,388.0 413.6,394.0 414.0,416.0 414.8,436.0 415.6,452.0 416.4,464.0 417.4,466.0 417.6,476.0 418.4,490.0 419.4,504.0 420.4,516.0 421.4,505.0 422.2,512.0 423.0,521.0 423.6,500.0 424.4,496.0 425.2,508.0 426.0,526.0 427.0,543.0 428.0,546.0 429.0,551.0 430.0,545.0 431.4,544.0 432.6,541.0 433.6,540.0 434.4,544.0 435.2,551.0 436.4,550.0 437.4,545.0 438.6,546.0 439.6,553.0 441.0,554.0 442.4,555.0 444.0,555.6 445.0,552.0 445.8,542.0 446.8,544.0 448.0,549.0 449.4,550.0 450.6,552.0 451.6,554.0 452.6,549.0 453.6,551.0 454.6,555.6 455.6,552.0 456.6,545.0 457.6,544.4 458.6,547.0 459.6,548.0 460.6,550.0 461.6,548.4 462.4,552.0 463.4,560.0 464.4,566.0 465.6,571.0 467.0,577.0 468.4,582.0 470.0,585.0 470.8,584.8 471.6,586.0 473.0,584.0 474.0,584.5 475.0,583.6 476.0,582.4 477.0,582.0 478.0,582.2 479.0,581.6 480.0,580.2 481.0,580.0 481.8,579.1 482.6,577.0 484.0,575.6 484.8,576.0 485.6,577.6 486.5,578.7 487.4,579.0 488.2,578.8 489.0,579.6 489.8,579.8 490.6,579.0 492.0,581.0 492.8,582.0 493.6,584.0 494.4,585.4 495.2,586.0 496.1,586.5 497.0,588.0 498.0,588.0 499.0,587.0 500.0,585.4 501.0,585.0 502.4,584.0 503.2,585.2 504.0,585.0 505.0,585.3 506.0,587.0 507.0,587.0 508.0,586.0 509.0,585.0 510.0,585.0 511.0,585.4 512.0,585.0 513.0,584.4 514.0,584.4 515.0,585.0 516.0,585.0 517.0,585.0 518.0,586.0 519.0,586.4 520.0,586.0 521.0,586.3 522.0,587.6 523.0,588.5 524.0,588.0 525.0,586.5 526.0,586.0 527.0,585.5 528.0,584.0 529.0,583.1 530.0,583.0 531.0,582.6 532.0,581.6 533.0,580.9 534.0,581.0 535.0,581.7 536.0,581.6 537.0,579.8 538.0,579.0 539.0,579.4 540.0,578.4 540.8,576.6 541.6,576.0 542.4,575.4 543.2,574.0 544.1,572.1 545.0,571.6 546.0,571.9 547.0,571.0 547.8,570.9 548.6,572.0 550.0,571.0 550.8,572.0 551.6,571.6 553.0,574.0 553.8,574.4 554.6,576.0 555.5,577.1 556.4,577.0 557.6,580.0 558.6,584.0 560.0,587.6 561.0,586.0 562.0,581.0 563.4,574.0 564.6,568.0 566.0,565.0 567.0,564.0 568.0,568.0 569.4,571.6 570.6,573.0 571.6,566.0 572.6,563.0 574.0,558.0 571.6,567.0 573.0,562.0 574.4,559.0 575.2,556.8 576.0,555.6 577.0,555.5 578.0,554.0 579.0,553.8 580.0,555.0 580.8,556.9 581.6,558.0 583.0,557.6 583.8,558.2 584.6,560.0 586.0,562.4 586.8,561.8 587.6,560.0 589.0,563.6 589.8,563.8 590.6,565.0 591.5,566.5 592.4,567.0 593.2,567.5 594.0,569.0 594.8,568.7 595.6,567.0 596.5,567.2 597.4,568.4 598.2,569.6 599.0,569.6 599.8,568.3 600.6,568.0 602.0,570.0 603.0,567.0 604.4,570.4 605.2,571.6 606.0,571.6 606.8,570.1 607.6,570.0 608.4,570.0 609.2,569.0 610.0,569.0 610.8,570.0 611.6,571.5 612.4,571.6 613.2,569.4 614.0,568.4 614.8,569.7 615.6,570.0 616.4,568.4 617.2,567.6 618.0,567.0 618.8,565.6 619.6,565.7 620.4,567.0 621.6,564.4 623.0,569.0 624.4,570.0 625.2,569.9 626.0,569.0 626.8,567.8 627.6,568.0 628.4,569.9 629.2,571.0 630.0,571.3 630.8,573.0 631.6,574.4 632.4,575.0 633.2,575.3 634.0,577.0 635.0,578.6 636.0,579.0 636.8,577.0 637.6,576.0 639.0,568.0 640.4,560.0 641.2,559.0 642.0,557.0 643.4,558.0 644.8,562.0 646.0,563.0 647.2,568.0 648.6,570.0 650.0,569.0 650.8,570.4 651.6,573.0 653.0,575.0 654.4,577.0 655.2,578.5 656.0,579.0 657.0,577.6 658.0,577.0 659.0,577.7 660.0,577.6 660.8,577.8 661.6,579.0 663.0,577.0 663.8,577.0 664.6,575.6 666.0,573.6 666.8,574.4 667.6,576.4 668.4,576.6 669.2,576.0 670.1,574.9 671.0,575.0 672.4,573.6 673.2,575.6 674.0,576.4 674.8,575.3 675.6,575.6 676.5,575.7 677.4,575.0 678.2,573.9 679.0,574.0 680.0,574.2 681.0,573.6 682.0,572.7 683.0,573.0 684.0,573.7 685.0,573.6 685.8,572.6 686.6,572.4 687.5,573.3 688.4,573.0 689.2,573.9 690.0,575.6 690.8,573.8 691.6,571.0 693.0,570.0 693.8,570.2 694.6,571.6 695.5,571.7 696.4,571.0 697.2,570.3 698.0,570.4 698.8,571.6 699.6,571.6 700.4,571.8 701.2,573.0 702.0,572.6 702.8,571.0 703.6,571.2 704.4,572.0 705.2,573.7 706.0,574.4 706.8,574.8 707.6,576.0 708.4,575.8 709.2,574.4 710.0,573.6 710.8,573.6 711.6,573.0 712.4,571.0 713.2,571.4 714.0,572.4 714.8,571.8 715.6,570.0 716.6,565.0 718.0,563.6 718.8,562.7 719.6,562.4 720.4,563.8 721.2,564.4 722.0,563.4 722.8,563.6 723.6,564.4 724.4,564.4 725.2,563.0 726.0,562.4 726.8,563.8 727.6,564.0 728.4,563.0 729.2,563.0 730.0,563.6 730.8,563.6 731.6,561.1 732.4,560.0 733.2,559.9 734.0,559.0 734.8,558.2 735.6,558.0 737.0,559.6 737.8,561.3 738.6,562.0 740.0,562.4 740.8,563.1 741.6,565.0 742.4,567.1 743.2,568.0 744.1,568.1 745.0,569.0 745.8,570.0 746.6,570.0 748.0,571.0 748.8,569.2 749.6,568.0 750.4,568.0 751.2,567.0 752.6,564.0 754.0,565.0 754.8,563.1 755.6,562.4 757.0,564.0 758.4,561.0 760.0,555.6 760.8,557.9 761.6,559.0 763.0,562.0 763.8,560.8 764.6,561.0 766.0,560.0 766.8,560.1 767.6,559.0 769.0,555.0 770.4,557.0 771.2,554.9 772.0,554.0 773.0,554.4 774.0,553.6 774.8,554.1 775.6,555.6 777.0,558.0 778.4,559.0 779.6,556.0 781.0,553.0 781.8,554.4 782.6,555.0 783.5,555.1 784.4,556.4 785.2,557.4 786.0,557.6 786.8,557.4 787.6,558.0 788.4,559.5 789.2,560.0 790.1,560.6 791.0,562.4 791.8,564.1 792.6,565.0 794.0,567.0 794.8,567.8 795.6,569.6 796.6,570.8 797.6,571.0 798.6,570.2 799.6,570.4 800.4,569.6 801.2,568.0 802.6,569.0 804.0,571.6 804.8,569.6 805.6,569.0 807.0,567.6 808.4,568.0 809.6,564.0 811.0,562.0 811.8,561.4 812.6,560.0 814.0,562.0 815.4,558.0 816.2,556.5 817.0,556.0 818.4,559.0 819.2,557.5 820.0,555.0 821.4,561.0 822.2,559.2 823.0,558.0 824.4,556.0 825.2,557.7 826.0,558.4 827.4,552.0 828.2,551.1 829.0,551.0 829.8,551.7 830.6,551.6 832.0,550.0 832.8,551.2 833.6,553.0 835.0,556.4 836.4,558.0 837.6,556.0 839.0,560.0 840.4,558.0 842.0,552.0 842.8,551.9 843.6,551.0 845.0,550.0 846.4,552.0 847.6,553.6 848.6,547.0 850.0,546.0 850.8,545.1 851.6,545.0 853.0,548.0 854.4,550.0 855.2,551.6 856.0,552.0 857.2,553.6 858.4,546.0 859.6,548.0 861.0,551.0 862.4,549.0 863.6,540.0 864.8,535.0 865.6,533.0 866.6,544.0 867.6,539.0 868.8,537.0 870.0,541.0 871.2,539.0 872.0,542.4 873.0,538.0 874.0,542.0 875.0,546.0 876.4,548.0 877.6,549.6 879.0,546.0 879.8,544.3 880.6,543.6 882.0,548.0 883.2,552.4 884.6,549.0 886.0,545.0 887.2,544.0 888.4,547.0 889.2,546.2 890.0,544.0 890.8,542.1 891.6,541.6 892.8,536.0 894.0,530.0 895.2,532.0 896.4,538.0 897.6,541.0 898.8,530.0 900.0,524.0 901.2,526.0 902.4,533.0 903.6,537.0 904.6,526.0 905.6,524.0 906.8,527.0 907.6,520.0 908.4,510.0 909.6,509.0 910.6,520.0 911.6,508.0 912.8,506.4 914.0,517.0 915.2,514.0 916.0,502.0 917.2,492.0 918.4,508.0 919.4,509.0 920.4,498.0 921.6,491.0 922.4,500.0 923.2,516.0 924.4,518.0 925.4,510.0 926.4,509.0 927.2,518.0 928.0,509.0 928.8,534.0 930.0,522.0 931.2,520.0 932.4,512.0 933.6,504.0 934.8,496.0 936.0,493.0 937.2,492.0 938.4,491.0 939.2,508.0 940.4,498.0 941.6,508.0 942.8,502.0 943.6,518.0 944.8,513.0 946.0,520.0 947.2,524.0 948.4,528.0 949.6,524.0 950.8,522.0 952.0,530.0 953.2,536.0 954.4,541.0 955.2,543.2 956.0,544.0 957.4,546.0 958.8,542.4 960.0,550.0 961.4,553.0 962.4,554.0 963.6,548.0 965.0,543.0 966.4,546.0 967.6,548.0 969.0,551.0 970.4,554.0 972.0,559.0 973.0,559.1 974.0,560.0" fill="none" stroke="#0000ff" stroke-width="3.8" stroke-linejoin="round" stroke-linecap="round"/>
<path d="M174.55,510.6h16M971.95,510.6h-16M174.55,421.8h16M971.95,421.8h-16M372.8,335.04999999999995v16M372.8,597.35v-16M573.2,335.04999999999995v16M573.2,597.35v-16M773.7,335.04999999999995v16M773.7,597.35v-16" stroke="#000" stroke-width="3.0" stroke-linecap="round" fill="none"/>
<rect x="172.4" y="332.9" width="801.7" height="266.6" fill="none" stroke="#000" stroke-width="6.3"/>
<text class="b" font-size="50" text-anchor="middle" transform="translate(143,616.0) scale(0.8,1)">0</text>
<text class="b" font-size="50" text-anchor="middle" transform="translate(143,527.1) scale(0.8,1)">1</text>
<rect x="132.90" y="520.58" width="7.87" height="8.05" fill="#fff"/>
<rect x="147.15" y="520.58" width="7.36" height="8.05" fill="#fff"/>
<text class="b" font-size="50" text-anchor="middle" transform="translate(143,438.3) scale(0.8,1)">2</text>
<text class="b" font-size="50" text-anchor="middle" transform="translate(143,349.4) scale(0.8,1)">3</text>
<text font-size="57" fill="#0000ff" transform="translate(702.6,425.2) scale(0.80,1)">t =</text>
<text font-size="57" fill="#0000ff" transform="translate(766.25,425.2) scale(0.815,1)">100</text>
<rect x="768.29" y="419.94" width="9.64" height="6.76" fill="#fff"/>
<rect x="782.04" y="419.94" width="9.28" height="6.76" fill="#fff"/>
<text font-size="57" fill="#0000ff" x="858.5" y="425.2">u</text>
<rect x="862.2" y="417.2" width="5.05" height="19.4" fill="#0000ff"/>
<text font-size="57" fill="#0000ff" text-anchor="end" transform="translate(929.9,425.2) scale(0.824,1)">m</text>
<clipPath id="c2"><rect x="172.4" y="644.2" width="801.7" height="266.5999999999999"/></clipPath>
<clipPath id="n2"><rect x="480" y="644.2" width="494.1" height="266.5999999999999"/></clipPath>
<polyline clip-path="url(#c2)" points="173.0,910.8 191.4,910.8 191.8,822.0 192.6,822.0 193.4,910.8 211.0,910.8 212.4,906.0 213.6,910.8 224.0,910.0 228.0,908.0 231.6,907.0 232.2,790.0 232.8,790.0 233.4,906.0 236.4,904.0 238.4,902.0 240.4,900.0 242.0,897.0 243.6,895.0 244.8,889.0 246.0,881.0 247.0,876.6 248.0,877.0 249.0,887.0 250.0,894.0 251.6,897.0 253.0,898.0 254.4,899.4 256.0,900.6 257.6,903.0 259.2,905.0 260.6,904.0 262.0,900.0 263.6,897.0 265.0,893.4 266.4,894.0 268.0,893.0 269.4,894.6 271.0,895.4 272.0,895.0 272.4,852.6 272.8,852.6 273.2,896.0 275.0,897.0 277.0,897.4 278.4,897.0 279.6,892.0 281.0,888.0 282.4,879.0 283.6,867.0 284.6,847.0 285.6,832.0 286.6,835.0 287.4,851.0 288.4,859.0 289.4,857.0 290.6,854.0 291.4,841.0 292.4,839.6 293.6,843.0 294.4,855.0 295.4,867.0 296.4,877.0 297.6,883.0 298.6,887.0 300.0,886.6 301.6,887.4 303.0,886.0 304.4,882.0 306.0,879.4 307.0,877.0 308.0,863.0 309.0,860.0 310.0,857.0 311.0,851.0 312.0,847.0 312.8,831.0 313.6,825.4 314.6,835.0 315.6,839.0 316.6,845.0 317.6,861.0 318.8,869.0 319.6,875.0 321.0,872.0 322.0,873.4 323.2,873.0 324.0,877.0 325.2,875.0 326.4,876.6 327.6,874.6 329.0,872.0 330.0,868.0 331.2,867.0 332.4,869.0 333.6,870.0 334.8,873.0 335.6,877.0 336.6,882.0 337.6,883.0 338.6,888.0 340.0,889.0 341.6,889.4 343.2,890.6 344.8,890.0 346.4,891.0 348.0,893.0 349.6,895.0 351.0,895.4 352.0,891.0 353.2,892.0 354.4,895.4 356.0,894.6 357.6,891.0 359.0,892.0 360.4,889.0 361.6,890.0 363.0,892.6 364.4,893.4 366.0,892.0 367.6,891.0 369.0,889.0 370.0,887.0 371.6,884.6 373.0,884.0 374.4,885.0 375.6,889.0 377.0,893.0 378.4,894.0 380.0,893.0 381.6,895.0 383.6,894.6 385.6,895.4 387.6,895.0 389.6,896.6 391.0,896.0 392.4,895.4 393.6,898.6 395.0,900.0 396.6,901.4 398.4,902.0 400.0,899.0 401.6,896.6 403.2,894.6 405.0,894.0 406.6,895.0 408.0,893.0 409.4,890.0 410.8,888.0 412.0,889.0 413.0,881.0 414.0,877.0 415.2,876.0 416.2,869.0 417.2,865.0 418.2,857.0 419.2,847.0 420.2,837.0 421.2,823.0 422.2,820.0 423.0,807.0 424.0,791.0 424.8,773.0 425.4,767.0 426.0,785.0 426.6,755.0 427.2,748.0 428.0,755.0 428.8,767.0 429.6,763.0 430.4,747.0 431.2,744.0 432.0,749.0 432.8,750.0 433.6,767.0 434.4,787.0 435.2,799.0 436.0,803.0 436.8,817.0 437.8,827.0 438.8,830.0 439.8,835.0 440.6,840.0 441.4,849.0 442.0,839.0 443.0,836.0 444.0,847.0 444.8,848.0 445.6,843.0 446.4,847.0 447.4,852.0 448.4,856.0 449.6,859.0 451.0,861.0 452.4,862.0 454.0,861.0 455.4,860.0 456.4,854.0 457.6,856.0 458.6,855.0 459.6,847.0 460.4,844.0 461.2,851.0 462.0,861.0 462.8,871.0 463.6,881.0 464.4,888.0 465.2,894.0 466.4,896.6 468.0,895.0 469.4,894.0 471.0,890.0 472.0,887.0 472.8,883.0 474.0,886.0 475.4,887.0 477.0,888.0 479.0,888.6 481.0,888.0 482.0,887.8 483.0,888.0 484.4,891.0 485.2,893.3 486.0,895.0 487.0,895.6 488.0,896.6 489.0,897.6 490.0,898.0 491.0,898.2 492.0,899.0 493.0,899.4 494.0,899.4 495.0,898.8 496.0,898.6 497.0,899.1 498.0,899.0 499.0,898.3 500.0,898.0 501.0,898.7 502.0,899.0 503.0,898.5 504.0,898.6 505.0,898.2 506.0,897.4 507.0,896.7 508.0,896.6 509.0,896.6 510.0,896.0 510.8,895.2 511.6,895.0 513.0,893.4 514.4,896.0 515.2,895.7 516.0,895.0 517.0,894.5 518.0,894.6 519.0,895.1 520.0,895.0 521.0,894.2 522.0,894.0 523.0,894.6 524.0,894.6 525.0,893.7 526.0,893.4 527.0,894.2 528.0,894.6 529.0,894.5 530.0,895.0 531.0,895.5 532.0,895.4 533.0,895.5 534.0,896.0 535.0,896.5 536.0,896.6 537.0,896.5 538.0,897.0 539.0,897.5 540.0,897.4 540.8,897.9 541.6,899.0 542.6,899.5 543.6,899.4 544.6,898.9 545.6,899.0 547.0,897.0 548.0,894.0 548.8,893.8 549.6,893.0 550.4,892.3 551.2,892.0 552.6,890.0 554.0,892.0 554.8,892.6 555.6,892.6 557.0,894.6 557.8,894.6 558.6,895.0 560.0,893.0 560.8,891.8 561.6,890.0 563.0,892.0 564.4,891.0 565.2,889.9 566.0,889.4 566.8,890.9 567.6,892.0 569.0,893.0 569.8,893.3 570.6,894.0 571.5,894.7 572.4,895.0 573.2,894.5 574.0,894.6 572.0,893.4 573.0,893.4 574.0,893.0 575.0,892.5 576.0,892.6 577.0,893.5 578.0,894.0 579.0,894.2 580.0,895.0 581.0,895.7 582.0,896.0 583.0,896.1 584.0,896.6 585.0,897.3 586.0,897.4 587.0,896.4 588.0,896.0 589.0,897.0 590.0,897.4 590.8,897.9 591.6,899.0 593.0,895.0 594.4,893.0 595.6,890.0 597.0,889.0 598.4,891.0 599.2,892.5 600.0,893.4 601.0,893.7 602.0,894.6 603.0,895.3 604.0,895.4 605.0,895.7 606.0,896.6 607.0,896.5 608.0,896.0 609.0,896.2 610.0,897.0 611.2,897.5 612.4,897.4 613.3,896.9 614.1,897.4 615.0,897.0 615.9,896.4 616.7,896.5 617.6,896.0 618.8,895.2 620.0,895.0 621.0,894.8 622.0,894.0 623.2,893.5 624.4,893.4 625.4,893.2 626.4,892.6 627.4,892.7 628.4,893.4 629.2,893.5 630.0,893.0 630.8,891.8 631.6,891.0 633.0,890.0 634.4,891.0 635.2,891.8 636.0,892.0 637.0,891.6 638.0,891.6 639.0,892.3 640.0,892.6 640.8,894.1 641.6,896.0 642.4,896.8 643.2,897.0 644.6,898.0 646.0,896.0 646.8,894.0 647.6,892.6 648.4,892.5 649.2,892.0 650.6,892.6 652.0,890.0 652.8,889.4 653.6,889.4 655.0,891.0 656.4,890.0 657.2,889.2 658.0,888.0 659.4,886.0 660.2,886.2 661.0,887.0 662.4,887.4 663.6,886.6 665.0,890.6 666.4,894.0 667.2,895.7 668.0,897.0 668.8,897.7 669.6,899.0 670.4,899.1 671.2,898.6 672.0,897.0 672.8,896.0 673.6,895.8 674.4,895.0 675.2,894.3 676.0,894.0 677.0,894.5 678.0,894.6 679.0,894.0 680.0,894.0 681.0,894.5 682.0,894.6 683.0,894.6 684.0,895.0 685.0,895.0 686.0,894.6 687.0,895.0 688.0,896.0 689.0,895.9 690.0,895.4 691.0,894.8 692.0,894.6 693.0,894.3 694.0,893.4 695.0,893.5 696.0,894.0 697.0,894.6 698.0,894.6 699.0,894.0 700.0,894.0 701.0,894.5 702.0,894.6 703.0,893.8 704.0,893.4 705.0,893.3 706.0,892.6 706.8,891.5 707.6,891.0 708.4,891.1 709.2,890.6 710.1,890.5 711.0,891.0 711.8,890.8 712.6,890.0 713.5,889.4 714.4,889.4 715.2,889.0 716.0,888.0 716.8,887.5 717.6,887.4 718.4,887.3 719.2,886.6 720.1,886.1 721.0,886.0 722.4,884.6 723.2,884.5 724.0,884.0 724.8,884.4 725.6,885.4 726.4,885.5 727.2,885.0 728.1,884.9 729.0,885.4 729.8,885.4 730.6,885.0 731.5,885.3 732.4,886.0 733.2,886.0 734.0,885.4 734.8,886.0 735.6,887.0 736.4,887.1 737.2,886.6 738.1,885.7 739.0,885.4 739.8,886.2 740.6,886.6 741.5,886.0 742.4,886.0 743.6,881.0 744.6,880.0 745.6,885.0 747.0,883.0 748.4,880.0 749.6,878.6 751.0,880.0 752.4,883.0 754.0,888.0 755.4,890.0 756.2,888.7 757.0,887.0 758.4,890.6 759.2,891.3 760.0,892.6 760.8,892.0 761.6,891.0 762.4,891.2 763.2,892.0 764.1,892.0 765.0,891.4 765.8,890.5 766.6,890.0 768.0,888.0 768.8,887.5 769.6,886.6 771.0,887.4 772.4,885.4 773.2,884.9 774.0,885.0 775.0,885.3 776.0,885.0 777.0,884.5 778.0,884.4 779.0,882.9 780.0,881.0 780.8,880.0 781.6,879.6 782.4,880.8 783.2,881.6 784.1,880.8 785.0,880.4 786.0,880.9 787.0,881.0 788.0,880.3 789.0,880.0 790.0,879.8 791.0,879.0 792.0,879.8 793.0,881.0 794.0,880.9 795.0,880.4 796.0,880.7 797.0,881.6 798.4,878.0 800.0,884.4 800.8,882.9 801.6,881.0 802.4,879.2 803.2,878.0 804.1,880.3 805.0,882.0 805.8,880.6 806.6,879.6 807.5,879.5 808.4,879.0 809.2,877.2 810.0,876.0 810.8,878.0 811.6,879.6 812.4,878.1 813.2,877.0 814.0,875.7 814.8,874.0 815.6,873.2 816.4,873.0 817.2,874.5 818.0,875.6 818.8,876.1 819.6,877.0 820.4,878.5 821.2,879.6 822.0,879.0 822.8,879.0 823.6,877.2 824.4,875.0 825.2,875.7 826.0,877.0 826.8,876.7 827.6,876.0 828.4,874.6 829.2,873.6 830.0,872.6 830.8,871.0 832.0,877.0 833.6,872.0 834.4,870.7 835.2,870.0 836.4,868.0 837.6,864.4 839.0,871.0 839.8,869.2 840.6,867.0 842.0,864.0 843.4,868.0 844.8,862.4 845.6,861.5 846.4,861.0 847.6,863.0 849.0,860.0 850.2,856.0 851.2,850.0 852.4,852.0 853.4,846.0 854.4,837.0 855.4,849.0 856.4,836.0 857.4,849.0 858.2,834.0 859.4,830.0 860.4,833.0 861.4,839.0 862.4,844.0 863.4,849.0 864.4,856.0 865.2,866.0 866.0,874.0 867.0,881.0 868.0,887.0 869.0,892.0 870.0,895.0 871.2,896.4 872.4,895.0 873.6,892.0 874.8,889.0 876.0,887.0 877.4,884.0 878.2,885.0 879.0,885.6 880.4,884.0 881.2,882.7 882.0,882.0 882.8,883.0 883.6,883.6 884.4,882.5 885.2,882.0 886.0,881.1 886.8,879.6 887.6,880.1 888.4,881.0 889.2,882.2 890.0,883.0 891.4,878.0 892.8,876.0 894.0,879.0 895.2,870.0 896.6,874.0 898.0,869.0 899.4,872.0 900.8,866.0 902.2,870.0 903.6,865.0 905.0,863.0 906.4,865.6 907.2,863.0 908.0,861.0 908.8,861.8 909.6,862.0 911.0,858.0 912.4,856.0 913.6,859.0 914.8,851.0 916.0,850.0 917.2,854.0 918.4,851.0 919.6,849.0 920.8,847.0 922.0,840.0 923.2,834.0 924.4,832.4 925.6,834.0 926.6,844.0 927.8,843.0 929.0,840.0 930.0,840.4 931.2,845.0 932.4,846.0 933.4,852.4 934.6,852.0 936.0,850.0 937.0,843.0 938.0,836.0 939.0,831.0 940.0,824.0 941.2,823.0 942.0,811.0 943.0,810.0 944.0,818.0 945.0,806.0 946.0,794.0 947.2,793.6 948.4,794.0 949.4,803.0 950.4,809.0 951.4,811.0 952.4,823.0 953.6,828.0 954.8,832.0 956.0,842.0 957.2,852.0 958.4,856.0 959.6,864.0 961.0,870.0 962.4,875.0 963.2,875.7 964.0,877.0 964.8,879.2 965.6,881.0 967.0,883.0 968.4,886.0 969.2,886.8 970.0,888.0 970.8,888.7 971.6,889.0 972.8,889.2 974.0,890.0" fill="none" stroke="#000000" stroke-width="3.0" stroke-linejoin="round" stroke-linecap="round"/>
<polyline clip-path="url(#n2)" points="173.0,910.8 191.4,910.8 191.8,822.0 192.6,822.0 193.4,910.8 211.0,910.8 212.4,906.0 213.6,910.8 224.0,910.0 228.0,908.0 231.6,907.0 232.2,790.0 232.8,790.0 233.4,906.0 236.4,904.0 238.4,902.0 240.4,900.0 242.0,897.0 243.6,895.0 244.8,889.0 246.0,881.0 247.0,876.6 248.0,877.0 249.0,887.0 250.0,894.0 251.6,897.0 253.0,898.0 254.4,899.4 256.0,900.6 257.6,903.0 259.2,905.0 260.6,904.0 262.0,900.0 263.6,897.0 265.0,893.4 266.4,894.0 268.0,893.0 269.4,894.6 271.0,895.4 272.0,895.0 272.4,852.6 272.8,852.6 273.2,896.0 275.0,897.0 277.0,897.4 278.4,897.0 279.6,892.0 281.0,888.0 282.4,879.0 283.6,867.0 284.6,847.0 285.6,832.0 286.6,835.0 287.4,851.0 288.4,859.0 289.4,857.0 290.6,854.0 291.4,841.0 292.4,839.6 293.6,843.0 294.4,855.0 295.4,867.0 296.4,877.0 297.6,883.0 298.6,887.0 300.0,886.6 301.6,887.4 303.0,886.0 304.4,882.0 306.0,879.4 307.0,877.0 308.0,863.0 309.0,860.0 310.0,857.0 311.0,851.0 312.0,847.0 312.8,831.0 313.6,825.4 314.6,835.0 315.6,839.0 316.6,845.0 317.6,861.0 318.8,869.0 319.6,875.0 321.0,872.0 322.0,873.4 323.2,873.0 324.0,877.0 325.2,875.0 326.4,876.6 327.6,874.6 329.0,872.0 330.0,868.0 331.2,867.0 332.4,869.0 333.6,870.0 334.8,873.0 335.6,877.0 336.6,882.0 337.6,883.0 338.6,888.0 340.0,889.0 341.6,889.4 343.2,890.6 344.8,890.0 346.4,891.0 348.0,893.0 349.6,895.0 351.0,895.4 352.0,891.0 353.2,892.0 354.4,895.4 356.0,894.6 357.6,891.0 359.0,892.0 360.4,889.0 361.6,890.0 363.0,892.6 364.4,893.4 366.0,892.0 367.6,891.0 369.0,889.0 370.0,887.0 371.6,884.6 373.0,884.0 374.4,885.0 375.6,889.0 377.0,893.0 378.4,894.0 380.0,893.0 381.6,895.0 383.6,894.6 385.6,895.4 387.6,895.0 389.6,896.6 391.0,896.0 392.4,895.4 393.6,898.6 395.0,900.0 396.6,901.4 398.4,902.0 400.0,899.0 401.6,896.6 403.2,894.6 405.0,894.0 406.6,895.0 408.0,893.0 409.4,890.0 410.8,888.0 412.0,889.0 413.0,881.0 414.0,877.0 415.2,876.0 416.2,869.0 417.2,865.0 418.2,857.0 419.2,847.0 420.2,837.0 421.2,823.0 422.2,820.0 423.0,807.0 424.0,791.0 424.8,773.0 425.4,767.0 426.0,785.0 426.6,755.0 427.2,748.0 428.0,755.0 428.8,767.0 429.6,763.0 430.4,747.0 431.2,744.0 432.0,749.0 432.8,750.0 433.6,767.0 434.4,787.0 435.2,799.0 436.0,803.0 436.8,817.0 437.8,827.0 438.8,830.0 439.8,835.0 440.6,840.0 441.4,849.0 442.0,839.0 443.0,836.0 444.0,847.0 444.8,848.0 445.6,843.0 446.4,847.0 447.4,852.0 448.4,856.0 449.6,859.0 451.0,861.0 452.4,862.0 454.0,861.0 455.4,860.0 456.4,854.0 457.6,856.0 458.6,855.0 459.6,847.0 460.4,844.0 461.2,851.0 462.0,861.0 462.8,871.0 463.6,881.0 464.4,888.0 465.2,894.0 466.4,896.6 468.0,895.0 469.4,894.0 471.0,890.0 472.0,887.0 472.8,883.0 474.0,886.0 475.4,887.0 477.0,888.0 479.0,888.6 481.0,888.0 482.0,887.8 483.0,888.0 484.4,891.0 485.2,893.3 486.0,895.0 487.0,895.6 488.0,896.6 489.0,897.6 490.0,898.0 491.0,898.2 492.0,899.0 493.0,899.4 494.0,899.4 495.0,898.8 496.0,898.6 497.0,899.1 498.0,899.0 499.0,898.3 500.0,898.0 501.0,898.7 502.0,899.0 503.0,898.5 504.0,898.6 505.0,898.2 506.0,897.4 507.0,896.7 508.0,896.6 509.0,896.6 510.0,896.0 510.8,895.2 511.6,895.0 513.0,893.4 514.4,896.0 515.2,895.7 516.0,895.0 517.0,894.5 518.0,894.6 519.0,895.1 520.0,895.0 521.0,894.2 522.0,894.0 523.0,894.6 524.0,894.6 525.0,893.7 526.0,893.4 527.0,894.2 528.0,894.6 529.0,894.5 530.0,895.0 531.0,895.5 532.0,895.4 533.0,895.5 534.0,896.0 535.0,896.5 536.0,896.6 537.0,896.5 538.0,897.0 539.0,897.5 540.0,897.4 540.8,897.9 541.6,899.0 542.6,899.5 543.6,899.4 544.6,898.9 545.6,899.0 547.0,897.0 548.0,894.0 548.8,893.8 549.6,893.0 550.4,892.3 551.2,892.0 552.6,890.0 554.0,892.0 554.8,892.6 555.6,892.6 557.0,894.6 557.8,894.6 558.6,895.0 560.0,893.0 560.8,891.8 561.6,890.0 563.0,892.0 564.4,891.0 565.2,889.9 566.0,889.4 566.8,890.9 567.6,892.0 569.0,893.0 569.8,893.3 570.6,894.0 571.5,894.7 572.4,895.0 573.2,894.5 574.0,894.6 572.0,893.4 573.0,893.4 574.0,893.0 575.0,892.5 576.0,892.6 577.0,893.5 578.0,894.0 579.0,894.2 580.0,895.0 581.0,895.7 582.0,896.0 583.0,896.1 584.0,896.6 585.0,897.3 586.0,897.4 587.0,896.4 588.0,896.0 589.0,897.0 590.0,897.4 590.8,897.9 591.6,899.0 593.0,895.0 594.4,893.0 595.6,890.0 597.0,889.0 598.4,891.0 599.2,892.5 600.0,893.4 601.0,893.7 602.0,894.6 603.0,895.3 604.0,895.4 605.0,895.7 606.0,896.6 607.0,896.5 608.0,896.0 609.0,896.2 610.0,897.0 611.2,897.5 612.4,897.4 613.3,896.9 614.1,897.4 615.0,897.0 615.9,896.4 616.7,896.5 617.6,896.0 618.8,895.2 620.0,895.0 621.0,894.8 622.0,894.0 623.2,893.5 624.4,893.4 625.4,893.2 626.4,892.6 627.4,892.7 628.4,893.4 629.2,893.5 630.0,893.0 630.8,891.8 631.6,891.0 633.0,890.0 634.4,891.0 635.2,891.8 636.0,892.0 637.0,891.6 638.0,891.6 639.0,892.3 640.0,892.6 640.8,894.1 641.6,896.0 642.4,896.8 643.2,897.0 644.6,898.0 646.0,896.0 646.8,894.0 647.6,892.6 648.4,892.5 649.2,892.0 650.6,892.6 652.0,890.0 652.8,889.4 653.6,889.4 655.0,891.0 656.4,890.0 657.2,889.2 658.0,888.0 659.4,886.0 660.2,886.2 661.0,887.0 662.4,887.4 663.6,886.6 665.0,890.6 666.4,894.0 667.2,895.7 668.0,897.0 668.8,897.7 669.6,899.0 670.4,899.1 671.2,898.6 672.0,897.0 672.8,896.0 673.6,895.8 674.4,895.0 675.2,894.3 676.0,894.0 677.0,894.5 678.0,894.6 679.0,894.0 680.0,894.0 681.0,894.5 682.0,894.6 683.0,894.6 684.0,895.0 685.0,895.0 686.0,894.6 687.0,895.0 688.0,896.0 689.0,895.9 690.0,895.4 691.0,894.8 692.0,894.6 693.0,894.3 694.0,893.4 695.0,893.5 696.0,894.0 697.0,894.6 698.0,894.6 699.0,894.0 700.0,894.0 701.0,894.5 702.0,894.6 703.0,893.8 704.0,893.4 705.0,893.3 706.0,892.6 706.8,891.5 707.6,891.0 708.4,891.1 709.2,890.6 710.1,890.5 711.0,891.0 711.8,890.8 712.6,890.0 713.5,889.4 714.4,889.4 715.2,889.0 716.0,888.0 716.8,887.5 717.6,887.4 718.4,887.3 719.2,886.6 720.1,886.1 721.0,886.0 722.4,884.6 723.2,884.5 724.0,884.0 724.8,884.4 725.6,885.4 726.4,885.5 727.2,885.0 728.1,884.9 729.0,885.4 729.8,885.4 730.6,885.0 731.5,885.3 732.4,886.0 733.2,886.0 734.0,885.4 734.8,886.0 735.6,887.0 736.4,887.1 737.2,886.6 738.1,885.7 739.0,885.4 739.8,886.2 740.6,886.6 741.5,886.0 742.4,886.0 743.6,881.0 744.6,880.0 745.6,885.0 747.0,883.0 748.4,880.0 749.6,878.6 751.0,880.0 752.4,883.0 754.0,888.0 755.4,890.0 756.2,888.7 757.0,887.0 758.4,890.6 759.2,891.3 760.0,892.6 760.8,892.0 761.6,891.0 762.4,891.2 763.2,892.0 764.1,892.0 765.0,891.4 765.8,890.5 766.6,890.0 768.0,888.0 768.8,887.5 769.6,886.6 771.0,887.4 772.4,885.4 773.2,884.9 774.0,885.0 775.0,885.3 776.0,885.0 777.0,884.5 778.0,884.4 779.0,882.9 780.0,881.0 780.8,880.0 781.6,879.6 782.4,880.8 783.2,881.6 784.1,880.8 785.0,880.4 786.0,880.9 787.0,881.0 788.0,880.3 789.0,880.0 790.0,879.8 791.0,879.0 792.0,879.8 793.0,881.0 794.0,880.9 795.0,880.4 796.0,880.7 797.0,881.6 798.4,878.0 800.0,884.4 800.8,882.9 801.6,881.0 802.4,879.2 803.2,878.0 804.1,880.3 805.0,882.0 805.8,880.6 806.6,879.6 807.5,879.5 808.4,879.0 809.2,877.2 810.0,876.0 810.8,878.0 811.6,879.6 812.4,878.1 813.2,877.0 814.0,875.7 814.8,874.0 815.6,873.2 816.4,873.0 817.2,874.5 818.0,875.6 818.8,876.1 819.6,877.0 820.4,878.5 821.2,879.6 822.0,879.0 822.8,879.0 823.6,877.2 824.4,875.0 825.2,875.7 826.0,877.0 826.8,876.7 827.6,876.0 828.4,874.6 829.2,873.6 830.0,872.6 830.8,871.0 832.0,877.0 833.6,872.0 834.4,870.7 835.2,870.0 836.4,868.0 837.6,864.4 839.0,871.0 839.8,869.2 840.6,867.0 842.0,864.0 843.4,868.0 844.8,862.4 845.6,861.5 846.4,861.0 847.6,863.0 849.0,860.0 850.2,856.0 851.2,850.0 852.4,852.0 853.4,846.0 854.4,837.0 855.4,849.0 856.4,836.0 857.4,849.0 858.2,834.0 859.4,830.0 860.4,833.0 861.4,839.0 862.4,844.0 863.4,849.0 864.4,856.0 865.2,866.0 866.0,874.0 867.0,881.0 868.0,887.0 869.0,892.0 870.0,895.0 871.2,896.4 872.4,895.0 873.6,892.0 874.8,889.0 876.0,887.0 877.4,884.0 878.2,885.0 879.0,885.6 880.4,884.0 881.2,882.7 882.0,882.0 882.8,883.0 883.6,883.6 884.4,882.5 885.2,882.0 886.0,881.1 886.8,879.6 887.6,880.1 888.4,881.0 889.2,882.2 890.0,883.0 891.4,878.0 892.8,876.0 894.0,879.0 895.2,870.0 896.6,874.0 898.0,869.0 899.4,872.0 900.8,866.0 902.2,870.0 903.6,865.0 905.0,863.0 906.4,865.6 907.2,863.0 908.0,861.0 908.8,861.8 909.6,862.0 911.0,858.0 912.4,856.0 913.6,859.0 914.8,851.0 916.0,850.0 917.2,854.0 918.4,851.0 919.6,849.0 920.8,847.0 922.0,840.0 923.2,834.0 924.4,832.4 925.6,834.0 926.6,844.0 927.8,843.0 929.0,840.0 930.0,840.4 931.2,845.0 932.4,846.0 933.4,852.4 934.6,852.0 936.0,850.0 937.0,843.0 938.0,836.0 939.0,831.0 940.0,824.0 941.2,823.0 942.0,811.0 943.0,810.0 944.0,818.0 945.0,806.0 946.0,794.0 947.2,793.6 948.4,794.0 949.4,803.0 950.4,809.0 951.4,811.0 952.4,823.0 953.6,828.0 954.8,832.0 956.0,842.0 957.2,852.0 958.4,856.0 959.6,864.0 961.0,870.0 962.4,875.0 963.2,875.7 964.0,877.0 964.8,879.2 965.6,881.0 967.0,883.0 968.4,886.0 969.2,886.8 970.0,888.0 970.8,888.7 971.6,889.0 972.8,889.2 974.0,890.0" fill="none" stroke="#000000" stroke-width="3.5" stroke-linejoin="round" stroke-linecap="round"/>
<path d="M174.55,821.9h16M971.95,821.9h-16M174.55,733.1h16M971.95,733.1h-16M372.8,646.35v16M372.8,908.65v-16M573.2,646.35v16M573.2,908.65v-16M773.7,646.35v16M773.7,908.65v-16" stroke="#000" stroke-width="3.0" stroke-linecap="round" fill="none"/>
<rect x="172.4" y="644.2" width="801.7" height="266.6" fill="none" stroke="#000" stroke-width="6.3"/>
<text class="b" font-size="50" text-anchor="middle" transform="translate(143,927.3) scale(0.8,1)">0</text>
<text class="b" font-size="50" text-anchor="middle" transform="translate(143,838.4) scale(0.8,1)">1</text>
<rect x="132.90" y="831.88" width="7.87" height="8.05" fill="#fff"/>
<rect x="147.15" y="831.88" width="7.36" height="8.05" fill="#fff"/>
<text class="b" font-size="50" text-anchor="middle" transform="translate(143,749.6) scale(0.8,1)">2</text>
<text class="b" font-size="50" text-anchor="middle" transform="translate(143,660.7) scale(0.8,1)">3</text>
<text font-size="57" fill="#000000" transform="translate(702.6,736.5) scale(0.80,1)">t =</text>
<text font-size="57" fill="#000000" transform="translate(766.25,736.5) scale(0.815,1)">150</text>
<rect x="768.29" y="731.24" width="9.64" height="6.76" fill="#fff"/>
<rect x="782.04" y="731.24" width="9.28" height="6.76" fill="#fff"/>
<text font-size="57" fill="#000000" x="858.5" y="736.5">u</text>
<rect x="862.2" y="728.5" width="5.05" height="19.4" fill="#000000"/>
<text font-size="57" fill="#000000" text-anchor="end" transform="translate(929.9,736.5) scale(0.824,1)">m</text>
<circle cx="871" cy="896.2" r="1.3" fill="#ff0000"/>
<text class="b" font-size="50" text-anchor="middle" transform="translate(172.4,972) scale(0.8,1)">0</text>
<text class="b" font-size="50" text-anchor="middle" transform="translate(372.8,972) scale(0.8,1)">500</text>
<text class="b" font-size="50" text-anchor="middle" transform="translate(573.2,972) scale(0.8,1)">1000</text>
<rect x="529.78" y="965.45" width="7.87" height="8.05" fill="#fff"/>
<rect x="544.03" y="965.45" width="7.36" height="8.05" fill="#fff"/>
<text class="b" font-size="50" text-anchor="middle" transform="translate(773.7,972) scale(0.8,1)">1500</text>
<rect x="730.20" y="965.45" width="7.87" height="8.05" fill="#fff"/>
<rect x="744.46" y="965.45" width="7.36" height="8.05" fill="#fff"/>
<text class="b" font-size="50" text-anchor="middle" transform="translate(974.1,972) scale(0.8,1)">2000</text>
<text class="b" font-size="57" text-anchor="middle" transform="translate(573.7,1030.5) scale(0.8135,1)">Frequency [Hz]</text>
<text class="b" font-size="57" text-anchor="middle" transform="translate(41.9,467.3) rotate(-90) scale(0.776,1)">Voltage [mV]</text>
</svg>
</body></html>
